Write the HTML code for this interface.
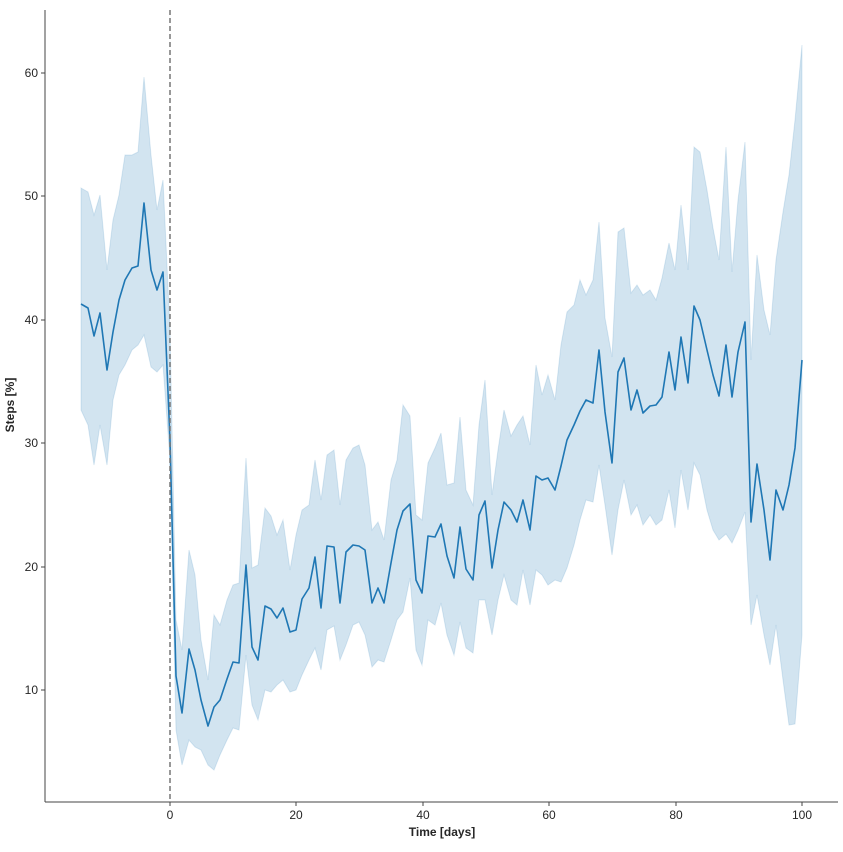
<!DOCTYPE html>
<html><head><style>
html,body{margin:0;padding:0;background:#fff;}
text{font-family:"Liberation Sans",sans-serif;fill:#262626;}
</style></head><body>
<svg width="843" height="847" viewBox="0 0 843 847" xmlns="http://www.w3.org/2000/svg">
<rect width="843" height="847" fill="#fff"/>
<polygon fill="#1f77b4" fill-opacity="0.2" stroke="#1f77b4" stroke-opacity="0.15" stroke-width="1" points="81,188 88,192 94,215 100,195 107,270 113,220 119,195 125,155 132,155 138,152 144,77 151,155 157,210 163,180 170,330 176,620 182,650 189,550 195,575 201,640 208,680 214,615 220,625 227,600 233,585 239,583 246,458 252,568 258,565 265,508 271,516 277,535 283,520 290,570 296,535 302,510 309,505 315,460 321,500 327,455 334,450 340,505 346,460 353,448 359,445 365,465 372,530 378,522 384,540 391,480 397,460 403,405 410,416 416,515 422,520 428,463 435,448 441,433 447,485 454,483 460,417 466,490 473,505 479,425 485,380 492,495 498,450 504,410 511,436 517,425 523,416 530,445 536,365 542,395 548,375 555,400 561,345 567,312 574,305 580,280 586,295 593,280 599,222 605,318 612,357 618,232 624,228 631,293 637,285 643,295 650,290 656,300 662,278 669,243 675,270 681,205 688,270 694,147 700,152 707,190 713,228 719,260 726,147 732,272 738,200 745,142 751,360 757,255 764,310 770,335 776,260 783,212 789,175 795,120 802,45 802,635 795,724 789,725 783,680 776,625 770,665 764,635 757,595 751,625 745,512 738,530 732,543 726,534 719,540 713,530 707,510 700,475 694,463 688,510 681,470 675,528 669,490 662,520 656,525 650,515 643,525 637,505 631,515 624,480 618,510 612,555 605,505 599,465 593,502 586,500 580,520 574,545 567,568 561,582 555,580 548,585 542,575 536,570 530,605 523,570 517,605 511,600 504,575 498,600 492,635 485,600 479,600 473,653 466,648 460,622 454,655 447,635 441,603 435,625 428,620 422,665 416,650 410,578 403,612 397,620 391,640 384,662 378,660 372,667 365,635 359,622 353,625 346,645 340,660 334,626 327,630 321,670 315,648 309,660 302,675 296,690 290,692 283,680 277,685 271,692 265,690 258,720 252,705 246,655 239,730 233,728 227,740 220,755 214,770 208,765 201,750 195,747 189,740 182,765 176,730 170,460 163,365 157,372 151,367 144,335 138,345 132,350 125,365 119,375 113,400 107,465 100,425 94,465 88,425 81,410"/>
<polyline fill="none" stroke="#1f77b4" stroke-width="1.6" stroke-linejoin="round" points="81,304 88,308 94,336 100,313 107,370 113,332 119,300 125,280 132,268 138,266 144,203 151,270 157,290 163,272 170,440 176,676 182,713 189,649 195,670 201,700 208,726 214,707 220,700 227,679 233,662 239,663 246,565 252,647 258,660 265,606 271,609 277,618 283,608 290,632 296,630 302,599 309,588 315,557 321,608 327,546 334,547 340,603 346,552 353,545 359,546 365,550 372,603 378,588 384,603 391,563 397,530 403,511 410,504 416,580 422,593 428,536 435,537 441,524 447,556 454,578 460,527 466,569 473,580 479,515 485,501 492,568 498,530 504,502 511,510 517,522 523,500 530,530 536,476 542,480 548,478 555,490 561,466 567,440 574,425 580,411 586,400 593,403 599,350 605,412 612,463 618,372 624,358 631,410 637,390 643,413 650,406 656,405 662,397 669,352 675,390 681,337 688,383 694,306 700,320 707,350 713,375 719,396 726,345 732,397 738,352 745,322 751,522 757,464 764,510 770,560 776,490 783,510 789,485 795,448 802,360"/>
<line x1="170" y1="10" x2="170" y2="802" stroke="#777" stroke-width="1.5" stroke-dasharray="5,3"/>
<g stroke="#444" stroke-width="1">
<line x1="45" y1="10" x2="45" y2="802"/>
<line x1="45" y1="802" x2="838" y2="802"/>
<line x1="41" y1="73" x2="45" y2="73"/><line x1="41" y1="196" x2="45" y2="196"/><line x1="41" y1="320" x2="45" y2="320"/><line x1="41" y1="443" x2="45" y2="443"/><line x1="41" y1="567" x2="45" y2="567"/><line x1="41" y1="690" x2="45" y2="690"/>
<line x1="170" y1="802" x2="170" y2="806"/><line x1="296" y1="802" x2="296" y2="806"/><line x1="423" y1="802" x2="423" y2="806"/><line x1="549" y1="802" x2="549" y2="806"/><line x1="676" y1="802" x2="676" y2="806"/><line x1="802" y1="802" x2="802" y2="806"/>
</g>
<g font-size="12" text-anchor="end">
<text x="38" y="77">60</text><text x="38" y="200">50</text><text x="38" y="324">40</text><text x="38" y="447">30</text><text x="38" y="571">20</text><text x="38" y="694">10</text>
</g>
<g font-size="12" text-anchor="middle">
<text x="170" y="819">0</text><text x="296" y="819">20</text><text x="423" y="819">40</text><text x="549" y="819">60</text><text x="676" y="819">80</text><text x="802" y="819">100</text>
</g>
<text x="442" y="836" font-size="12" font-weight="bold" text-anchor="middle">Time [days]</text>
<text transform="translate(14,405) rotate(-90)" font-size="12" font-weight="bold" text-anchor="middle">Steps [%]</text>
</svg>
</body></html>
